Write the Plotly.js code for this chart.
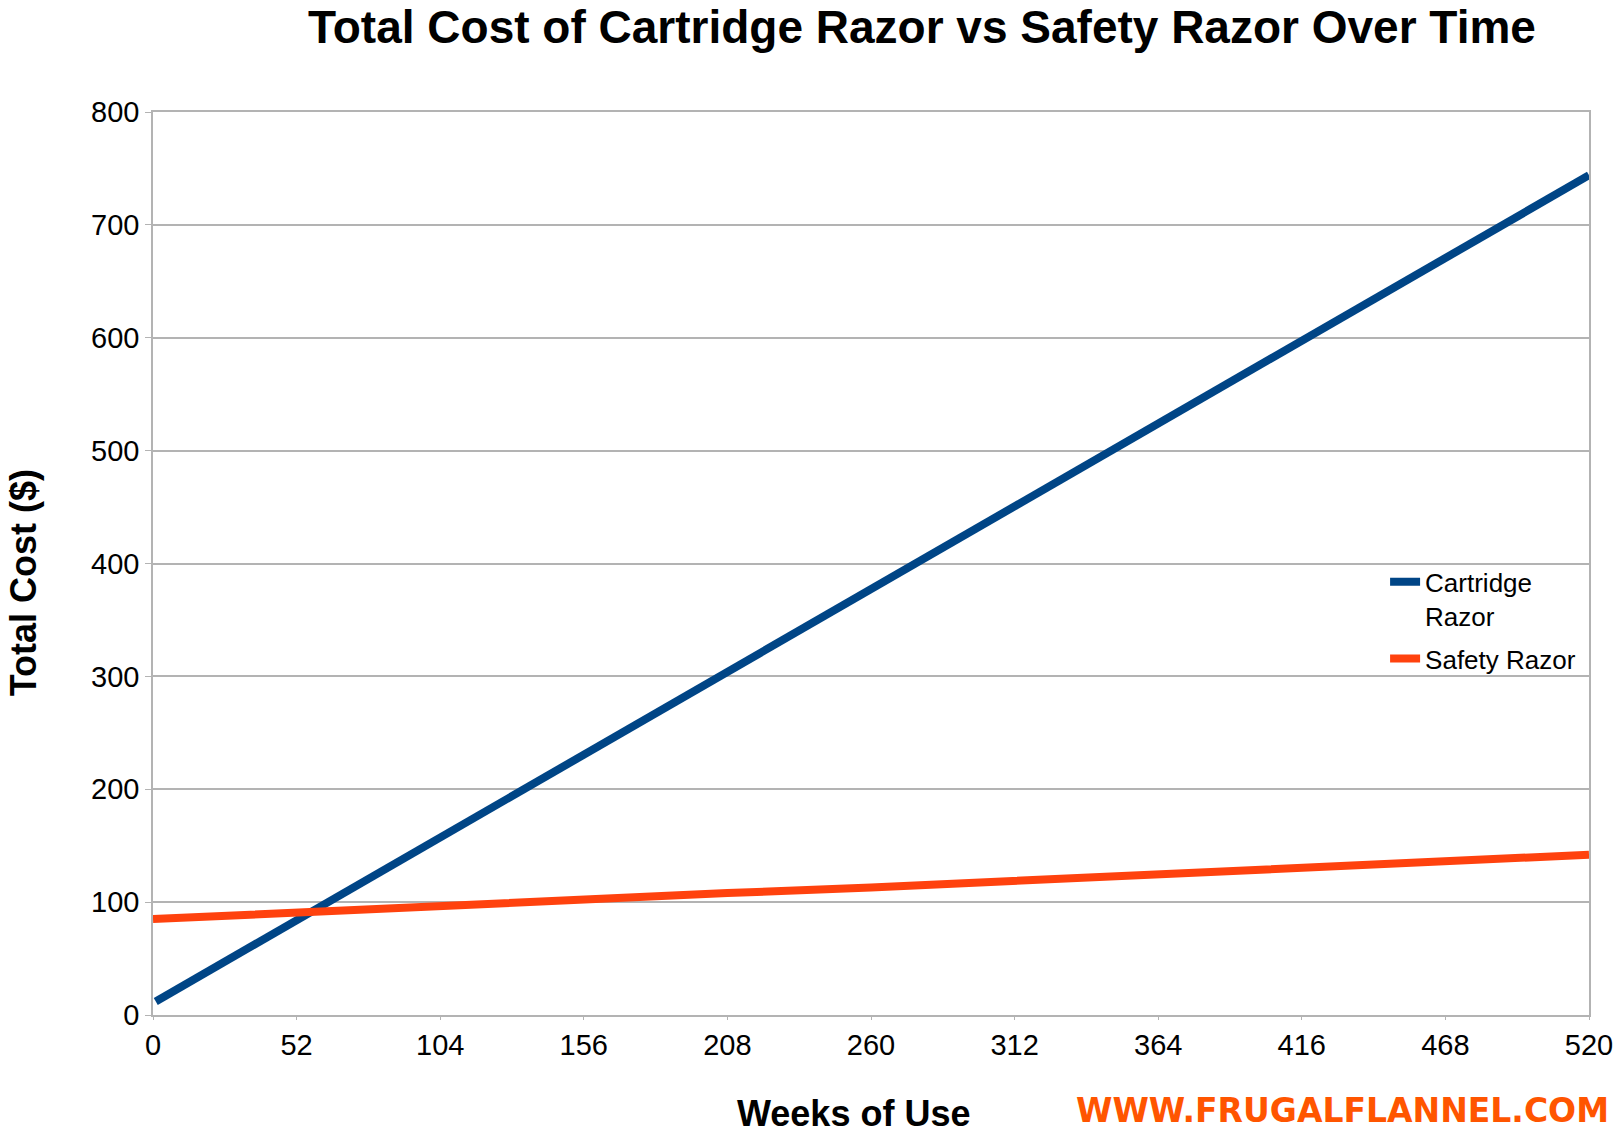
<!DOCTYPE html>
<html>
<head>
<meta charset="utf-8">
<script src="https://cdn.plot.ly/plotly-3.0.1.min.js"></script>
<style>html,body{margin:0;padding:0;background:#fff;}#chart{width:1618px;height:1135px;}</style>
</head>
<body>
<div id="chart"></div>
<script>
const cartridgeWeeks = [1, 52, 104, 156, 208, 260, 312, 364, 416, 468, 520];
const cartridgeCost  = [12, 84, 158, 231, 304, 377, 451, 524, 597, 671, 744];
const safetyWeeks = [0, 52, 104, 156, 208, 260, 312, 364, 416, 468, 520];
const safetyCost  = [85, 91, 96, 102, 108, 113, 119, 125, 131, 136, 142];
const xTicks = [0, 52, 104, 156, 208, 260, 312, 364, 416, 468, 520];
const yTicks = [0, 100, 200, 300, 400, 500, 600, 700, 800];

const grid = '#b3b3b3';
const traces = [
  {x: cartridgeWeeks, y: cartridgeCost, type: 'scatter', mode: 'lines', name: 'Cartridge<br>Razor',
   legendgroup: 'a', line: {color: '#004586', width: 8}},
  {x: safetyWeeks, y: safetyCost, type: 'scatter', mode: 'lines', name: 'Safety Razor',
   legendgroup: 'b', line: {color: '#ff420e', width: 8}}
];
const layout = {
  width: 1618, height: 1135,
  margin: {l: 153, r: 29, t: 112, b: 120},
  paper_bgcolor: '#fff', plot_bgcolor: '#fff',
  font: {family: 'Liberation Sans, Arial, sans-serif', color: '#000', size: 29},
  title: {text: '<b>Total Cost of Cartridge Razor vs Safety Razor Over Time</b>',
    font: {family: 'Liberation Sans, Arial, sans-serif', size: 46, color: '#000'},
    x: 0.5355, xanchor: 'center', xref: 'paper', y: 0.9762, yanchor: 'middle', yref: 'container'},
  xaxis: {range: [0, 520], tickvals: xTicks, ticktext: xTicks.map(String),
    showgrid: false, zeroline: false, showline: true, linecolor: grid, linewidth: 1.5, mirror: true,
    ticks: 'outside', ticklen: 3, tickcolor: grid, tickfont: {size: 29}},
  yaxis: {range: [0, 800], tickvals: yTicks, ticktext: yTicks.map(String),
    showgrid: true, gridcolor: grid, gridwidth: 1.5, zeroline: false, showline: true, linecolor: grid, linewidth: 1.5, mirror: true,
    ticks: 'outside', ticklen: 6, tickcolor: grid, tickfont: {size: 29}},
  showlegend: true,
  legend: {x: 0.858, xanchor: 'left', y: 0.437, yanchor: 'middle', valign: 'top', traceorder: 'grouped', tracegroupgap: 6,
    font: {size: 26, family: 'Liberation Sans, Arial, sans-serif'}, bgcolor: 'rgba(0,0,0,0)'},
  annotations: [
    {text: '<b>Weeks of Use</b>', xref: 'paper', yref: 'paper', x: 0.4875, y: -0.109, xanchor: 'center', yanchor: 'middle',
     showarrow: false, font: {size: 36, family: 'Liberation Sans, Arial, sans-serif', color: '#000'}},
    {text: '<b>Total Cost ($)</b>', xref: 'paper', yref: 'paper', x: -0.09, y: 0.479, xanchor: 'center', yanchor: 'middle',
     textangle: -90, showarrow: false, font: {size: 36, family: 'Liberation Sans, Arial, sans-serif', color: '#000'}},
    {text: '<b>WWW.FRUGALFLANNEL.COM</b>', xref: 'paper', yref: 'paper', x: 1.015, y: -0.106, xanchor: 'right', yanchor: 'middle',
     showarrow: false, font: {size: 33, family: 'DejaVu Sans, sans-serif', color: '#ff5500'}}
  ]
};
Plotly.newPlot('chart', traces, layout, {displayModeBar: false, responsive: false});
</script>
</body>
</html>
